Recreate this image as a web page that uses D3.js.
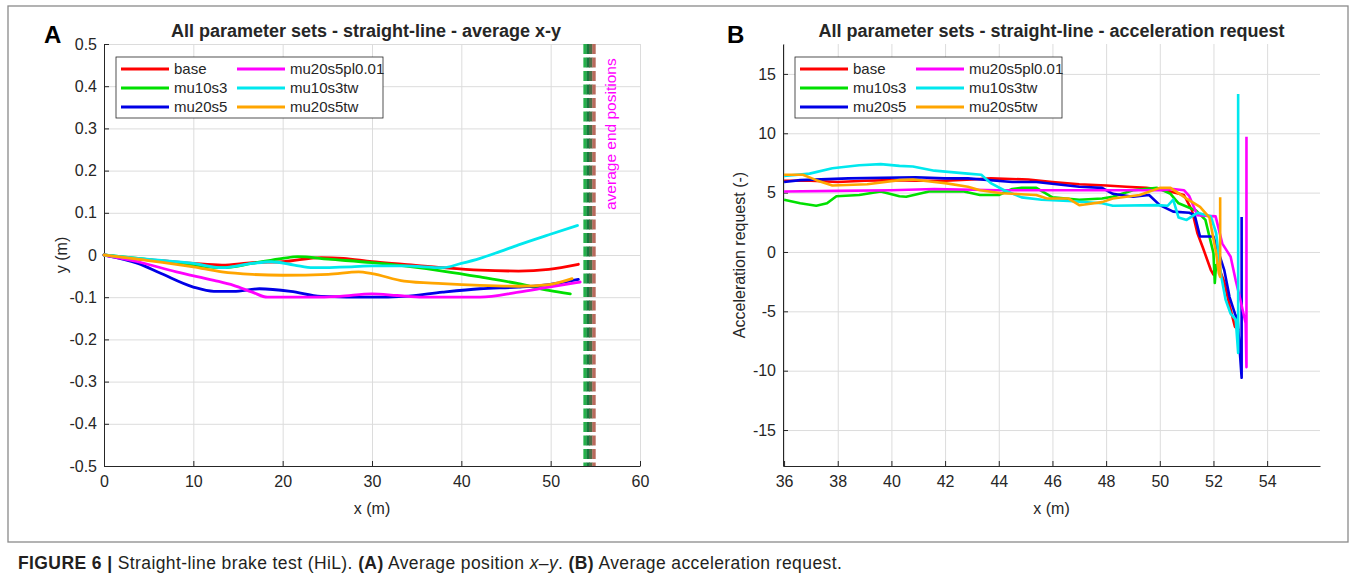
<!DOCTYPE html>
<html>
<head>
<meta charset="utf-8">
<script src="https://cdn.jsdelivr.net/npm/d3@7/dist/d3.min.js"></script>
<style>
  body { margin: 0; background: #fff; }
  svg text { font-family: "Liberation Sans", Arial, sans-serif; fill: #262626; }
</style>
</head>
<body>
<div id="container"></div>
<script>
/*** CONSTANTS AND GLOBALS ***/
const width = 1354, height = 581;

const seriesNames = ["base", "mu10s3", "mu20s5", "mu20s5pl0.01", "mu10s3tw", "mu20s5tw"];
const seriesColors = ["#ff0000", "#00e000", "#0000e6", "#ff00ff", "#00e8ee", "#ffa500"];

// panel A : average x-y path, [x (m), y (m)]
const posBase = [[0,0],[3.8,-0.01],[6,-0.013],[10,-0.02],[13.2,-0.024],[16.6,-0.018],[20,-0.016],[24.3,-0.006],[26.8,-0.008],[30,-0.016],[33.6,-0.022],[37.9,-0.03],[42.1,-0.036],[46.4,-0.038],[49.8,-0.034],[53.1,-0.022]];
const posMu10s3 = [[0,0],[3.8,-0.008],[10,-0.024],[13.2,-0.03],[16.6,-0.02],[20,-0.008],[21.7,-0.004],[25.1,-0.01],[30,-0.018],[33.6,-0.026],[37.9,-0.038],[42.1,-0.052],[46.4,-0.068],[49.8,-0.084],[52.2,-0.092]];
const posMu20s5 = [[0,0],[3.8,-0.02],[6.4,-0.044],[10,-0.076],[12.3,-0.086],[14.5,-0.086],[17.4,-0.08],[20.9,-0.086],[24.3,-0.098],[30,-0.1],[33.6,-0.098],[37.9,-0.088],[42.1,-0.08],[46.4,-0.076],[49.8,-0.07],[53.1,-0.058]];
const posMu20s5pl = [[0,0],[3.8,-0.016],[8.1,-0.04],[12.3,-0.06],[14.5,-0.072],[16.6,-0.088],[18.3,-0.1],[23,-0.1],[26.4,-0.098],[30,-0.092],[32.8,-0.096],[35.7,-0.1],[42.1,-0.1],[46.4,-0.088],[49.8,-0.076],[53.3,-0.064]];
const posMu10s3tw = [[0,0],[3.8,-0.008],[10,-0.02],[13.2,-0.03],[16.6,-0.02],[18.7,-0.016],[21.3,-0.024],[23.4,-0.03],[27.7,-0.028],[30,-0.026],[33.6,-0.026],[37.9,-0.03],[40,-0.02],[42.1,-0.008],[44.3,0.008],[46.4,0.024],[49.8,0.048],[53,0.07]];
const posMu20s5tw = [[0,0],[3.8,-0.01],[10,-0.028],[13.2,-0.04],[16.6,-0.046],[20,-0.048],[25.1,-0.046],[28.5,-0.04],[30,-0.044],[33.6,-0.062],[37.9,-0.068],[42.1,-0.072],[46.4,-0.074],[49.8,-0.07],[52.4,-0.056]];

// average end positions (dashed band)
const endStripeX = [53.85, 54.2, 54.5, 54.85];
const endStripeColors = ["#25b14a", "#167a3c", "#4f6e48", "#b86a5c"];

// panel B : acceleration request, [x (m), request (-)]
const accBase = [[36,6.0],[37,6.0],[38,5.9],[39,6.0],[40,6.05],[41,6.0],[42,6.0],[43,6.1],[43.7,6.2],[45.1,6.1],[46,5.9],[47,5.7],[48,5.6],[48.75,5.5],[49.5,5.4],[50.2,5.2],[50.9,4.8],[51.2,3.5],[51.4,1.6],[51.6,0.4],[51.9,-1.5],[52.0,-1.9],[52.15,-1.0],[52.4,-2.5],[52.6,-4.5],[52.8,-6.3],[52.95,-6.6]];
const accMu10s3 = [[36,4.4],[36.6,4.1],[37.2,3.9],[37.6,4.1],[37.95,4.7],[38.8,4.8],[39.6,5.1],[40.3,4.7],[40.55,4.65],[41.4,5.1],[42.7,5.1],[43.3,4.8],[44.0,4.8],[44.5,5.3],[44.85,5.4],[45.4,5.4],[46.0,4.6],[47.0,4.4],[47.85,4.5],[48.25,4.65],[49.0,5.2],[49.9,5.4],[50.4,4.9],[50.7,4.1],[51.35,3.5],[51.7,2.7],[52.0,-0.1],[52.05,-2.6],[52.1,-1.0]];
const accMu20s5 = [[36,5.9],[36.6,6.05],[38.4,6.2],[40.9,6.3],[42.0,6.2],[42.85,6.2],[44.5,5.9],[45.4,5.9],[47.0,5.5],[47.85,5.4],[48.25,4.9],[49.0,4.65],[49.6,4.8],[50.0,3.95],[50.5,3.4],[51.1,3.3],[51.3,3.1],[51.5,1.3],[52.0,1.3],[52.2,-0.1],[52.4,-1.5],[52.6,-3.8],[52.8,-5.2],[52.9,-5.7],[53.05,-10.6],[53.05,2.95]];
const accMu20s5pl = [[36,5.1],[38,5.15],[40,5.2],[41.6,5.3],[44,5.2],[46,5.2],[48,5.2],[50.1,5.2],[50.5,5.3],[50.9,5.2],[51.1,4.7],[51.4,3.1],[52.08,3.0],[52.33,0.7],[52.64,-0.4],[52.83,-2.4],[53.0,-4.0],[53.2,-6.0],[53.23,-9.7],[53.23,9.7]];
const accMu10s3tw = [[36,6.4],[36.95,6.6],[37.8,7.05],[38.8,7.3],[39.6,7.4],[40.3,7.25],[40.8,7.2],[41.6,6.85],[42.85,6.6],[43.35,6.5],[43.7,5.8],[44.2,5.2],[44.85,4.6],[45.6,4.4],[46.6,4.3],[47.85,4.1],[48.25,3.9],[49.9,3.95],[50.3,3.9],[50.5,4.4],[50.7,2.9],[51.0,2.7],[51.4,3.3],[51.9,3.0],[52.1,1.6],[52.27,-1.8],[52.45,-4.0],[52.64,-5.2],[52.83,-5.7],[52.92,-8.5],[52.92,13.3]];
const accMu20s5tw = [[36,6.5],[36.7,6.5],[37.2,6.05],[37.8,5.6],[39.1,5.7],[40.3,6.05],[40.8,6.1],[41.6,5.9],[42.0,5.8],[42.85,5.5],[43.3,5.2],[44.1,4.95],[44.5,4.9],[45.4,4.8],[45.8,4.5],[46.6,4.5],[47.0,3.95],[47.2,4.0],[47.85,4.2],[48.25,4.5],[49.25,4.8],[50.0,5.4],[50.4,5.4],[51.0,4.5],[51.5,3.8],[51.85,2.9],[52.1,-0.1],[52.2,-1.8],[52.25,-2.1],[52.25,4.6]];

const posSeries = [posBase, posMu10s3, posMu20s5, posMu20s5pl, posMu10s3tw, posMu20s5tw];
const accSeries = [accBase, accMu10s3, accMu20s5, accMu20s5pl, accMu10s3tw, accMu20s5tw];

const ticksAx = [0, 10, 20, 30, 40, 50, 60];
const ticksAy = [-0.5, -0.4, -0.3, -0.2, -0.1, 0, 0.1, 0.2, 0.3, 0.4, 0.5];
const ticksBx = [36, 38, 40, 42, 44, 46, 48, 50, 52, 54];
const ticksBy = [-15, -10, -5, 0, 5, 10, 15];

const boxA = { left: 104, right: 640, top: 44, bottom: 466 };
const boxB = { left: 783, right: 1320, top: 44, bottom: 466 };

let svg;

init();

function init() {
  svg = d3.select("#container")
    .append("svg")
    .attr("width", width)
    .attr("height", height);

  // figure frame
  svg.append("rect")
    .attr("x", 8).attr("y", 6)
    .attr("width", 1340).attr("height", 536)
    .attr("fill", "none")
    .attr("stroke", "#8a8a8a")
    .attr("stroke-width", 1.3);

  const xA = d3.scaleLinear().domain([0, 60]).range([boxA.left, boxA.right]);
  const yA = d3.scaleLinear().domain([-0.5, 0.5]).range([boxA.bottom, boxA.top]);
  const xB = d3.scaleLinear().domain([35.96, 55.97]).range([boxB.left, boxB.right]);
  const yB = d3.scaleLinear().domain([-18.03, 17.52]).range([boxB.bottom, boxB.top]);

  const fmtA = d => d === 0 ? "0" : d3.format(".1f")(d).replace("−", "-");

  drawAxes(xA, yA, boxA, ticksAx, ticksAy, fmtA);
  drawAxes(xB, yB, boxB, ticksBx, ticksBy, d => String(d));

  // panel A lines
  const lineA = d3.line().x(d => xA(d[0])).y(d => yA(d[1])).curve(d3.curveMonotoneX);
  svg.append("g").selectAll("path")
    .data(posSeries)
    .join("path")
    .attr("d", lineA)
    .attr("fill", "none")
    .attr("stroke", (d, i) => seriesColors[i])
    .attr("stroke-width", 2.8)
    .attr("stroke-linecap", "round");

  // average end positions band
  svg.append("g").selectAll("line")
    .data(endStripeX)
    .join("line")
    .attr("x1", d => xA(d)).attr("x2", d => xA(d))
    .attr("y1", yA(0.5)).attr("y2", yA(-0.5))
    .attr("stroke", (d, i) => endStripeColors[i])
    .attr("stroke-width", 3.4)
    .attr("stroke-dasharray", "10,3.5");

  svg.append("text")
    .attr("transform", `translate(${xA(56.2) + 10},210) rotate(-90)`)
    .attr("text-anchor", "start")
    .style("font-size", "15.5px")
    .style("fill", "#ff00ff")
    .text("average end positions");

  // panel B lines
  const lineB = d3.line().x(d => xB(d[0])).y(d => yB(d[1]));
  svg.append("g").selectAll("path")
    .data(accSeries)
    .join("path")
    .attr("d", lineB)
    .attr("fill", "none")
    .attr("stroke", (d, i) => seriesColors[i])
    .attr("stroke-width", 2.6)
    .attr("stroke-linejoin", "round");

  drawLegend(boxA.left + 12, 57);
  drawLegend(boxB.left + 12, 57);

  // titles
  svg.append("text")
    .attr("x", (boxA.left + boxA.right) / 2 - 6).attr("y", 37)
    .attr("text-anchor", "middle")
    .style("font-size", "18px").style("font-weight", "bold")
    .text("All parameter sets - straight-line - average x-y");
  svg.append("text")
    .attr("x", (boxB.left + boxB.right) / 2).attr("y", 37)
    .attr("text-anchor", "middle")
    .style("font-size", "18px").style("font-weight", "bold")
    .text("All parameter sets - straight-line - acceleration request");

  // panel letters
  svg.append("text").attr("x", 44).attr("y", 43)
    .style("font-size", "24px").style("font-weight", "bold").style("fill", "#000").text("A");
  svg.append("text").attr("x", 727).attr("y", 43)
    .style("font-size", "24px").style("font-weight", "bold").style("fill", "#000").text("B");

  // axis labels
  svg.append("text")
    .attr("x", (boxA.left + boxA.right) / 2).attr("y", 514)
    .attr("text-anchor", "middle").style("font-size", "16px").text("x (m)");
  svg.append("text")
    .attr("x", (boxB.left + boxB.right) / 2).attr("y", 514)
    .attr("text-anchor", "middle").style("font-size", "16px").text("x (m)");
  svg.append("text")
    .attr("transform", `translate(67,${(boxA.top + boxA.bottom) / 2}) rotate(-90)`)
    .attr("text-anchor", "middle").style("font-size", "16px").text("y (m)");
  svg.append("text")
    .attr("transform", `translate(745,${(boxB.top + boxB.bottom) / 2}) rotate(-90)`)
    .attr("text-anchor", "middle").style("font-size", "16px").text("Acceleration request (-)");

  // caption
  const cap = svg.append("text")
    .attr("x", 18).attr("y", 569)
    .style("font-size", "17.5px")
    .style("letter-spacing", "0.4px")
    .style("fill", "#231f20");
  cap.append("tspan").style("font-weight", "bold").text("FIGURE 6 | ");
  cap.append("tspan").text("Straight-line brake test (HiL). ");
  cap.append("tspan").style("font-weight", "bold").text("(A)");
  cap.append("tspan").text(" Average position ");
  cap.append("tspan").style("font-style", "italic").text("x–y");
  cap.append("tspan").text(". ");
  cap.append("tspan").style("font-weight", "bold").text("(B)");
  cap.append("tspan").text(" Average acceleration request.");
}

function drawAxes(x, y, box, xt, yt, fmtY) {
  const h = box.bottom - box.top, w = box.right - box.left;

  // grid
  svg.append("g")
    .attr("transform", `translate(0,${box.bottom})`)
    .call(d3.axisBottom(x).tickValues(xt).tickSize(-h).tickFormat(""))
    .call(g => g.select(".domain").remove())
    .call(g => g.selectAll("line").attr("stroke", "#dcdcdc"));
  svg.append("g")
    .attr("transform", `translate(${box.left},0)`)
    .call(d3.axisLeft(y).tickValues(yt).tickSize(-w).tickFormat(""))
    .call(g => g.select(".domain").remove())
    .call(g => g.selectAll("line").attr("stroke", "#dcdcdc"));

  // axes, ticks inward
  svg.append("g")
    .attr("transform", `translate(0,${box.bottom})`)
    .call(d3.axisBottom(x).tickValues(xt).tickSize(-5).tickSizeOuter(0).tickPadding(10))
    .call(g => g.select(".domain").attr("stroke", "#262626"))
    .call(g => g.selectAll("line").attr("stroke", "#262626"))
    .call(g => g.selectAll("text").style("font-size", "16px").attr("fill", "#262626"));
  svg.append("g")
    .attr("transform", `translate(${box.left},0)`)
    .call(d3.axisLeft(y).tickValues(yt).tickSize(-5).tickSizeOuter(0).tickPadding(7).tickFormat(fmtY))
    .call(g => g.select(".domain").attr("stroke", "#262626"))
    .call(g => g.selectAll("line").attr("stroke", "#262626"))
    .call(g => g.selectAll("text").style("font-size", "16px").attr("fill", "#262626"));
}

function drawLegend(x0, y0) {
  const g = svg.append("g").attr("transform", `translate(${x0},${y0})`);
  g.append("rect")
    .attr("width", 267).attr("height", 61)
    .attr("fill", "#fff")
    .attr("stroke", "#262626")
    .attr("stroke-width", 0.8);
  const items = g.selectAll(".leg")
    .data(seriesNames)
    .join("g")
    .attr("class", "leg")
    .attr("transform", (d, i) => `translate(${i < 3 ? 5 : 121},${12 + (i % 3) * 19})`);
  items.append("line")
    .attr("x1", 0).attr("x2", 48)
    .attr("stroke", (d, i) => seriesColors[i])
    .attr("stroke-width", 3.2);
  items.append("text")
    .attr("x", 53).attr("dy", "0.35em")
    .style("font-size", "15px")
    .text(d => d);
}
</script>
</body>
</html>
